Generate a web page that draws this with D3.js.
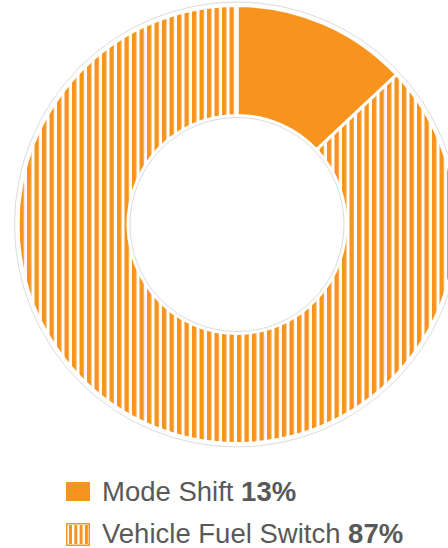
<!DOCTYPE html>
<html>
<head>
<meta charset="utf-8">
<script src="https://cdn.jsdelivr.net/npm/d3@7"></script>
<style>
  html, body { margin: 0; padding: 0; background: #fff; }
  svg { display: block; }
</style>
</head>
<body>
<svg id="chart" width="448" height="548"></svg>
<script>
// Share of emission reductions by measure
const categories = ["Mode Shift", "Vehicle Fuel Switch"];
const values = [13, 87];
const labels = ["13%", "87%"];
const fills = ["solid", "stripes"];

const orange = "#F7941E";
const svg = d3.select("#chart");

// vertical stripe pattern
const defs = svg.append("defs");
const pat = defs.append("pattern")
  .attr("id", "stripes")
  .attr("patternUnits", "userSpaceOnUse")
  .attr("width", 7.5).attr("height", 10);
pat.append("rect").attr("width", 7.5).attr("height", 10).attr("fill", "#fff");
pat.append("rect").attr("x", 0).attr("width", 4.4).attr("height", 10).attr("fill", orange);

const fillFor = f => f === "solid" ? orange : "url(#stripes)";

const cx = 237, cy = 224.5, R = 219, r = 109;

const g = svg.append("g").attr("transform", `translate(${cx},${cy})`);

// faint outline rings
g.append("circle").attr("r", R + 3.5).attr("fill", "none")
  .attr("stroke", "#dcdcdc").attr("stroke-width", 1);

const pie = d3.pie().sort(null).value(d => d.v);
const arc = d3.arc().innerRadius(r).outerRadius(R);
const data = categories.map((c, i) => ({ c, v: values[i], f: fills[i] }));

g.selectAll("path.slice")
  .data(pie(data))
  .join("path")
  .attr("class", "slice")
  .attr("d", arc)
  .attr("fill", d => fillFor(d.data.f))
  .attr("stroke", "#fff")
  .attr("stroke-width", 3);

g.append("circle").attr("r", r - 2).attr("fill", "#fff")
  .attr("stroke", "#dcdcdc").attr("stroke-width", 1);

// legend
const legend = svg.append("g").attr("transform", "translate(66,482)");
const rowH = 41;
const items = legend.selectAll("g.item")
  .data(data)
  .join("g")
  .attr("class", "item")
  .attr("transform", (d, i) => `translate(0,${i * rowH})`);

items.append("rect")
  .attr("x", d => d.f === "solid" ? 0 : 0.75)
  .attr("y", d => d.f === "solid" ? 0 : 0.75)
  .attr("width", d => d.f === "solid" ? 24 : 22.5)
  .attr("height", d => d.f === "solid" ? 19 : 21.5)
  .attr("fill", d => d.f === "solid" ? orange : "#fff")
  .attr("stroke", d => d.f === "solid" ? "none" : orange)
  .attr("stroke-width", 1.5);

// stripes inside the patterned swatch
items.filter(d => d.f !== "solid")
  .selectAll("rect.bar")
  .data(d3.range(4))
  .join("rect")
  .attr("class", "bar")
  .attr("x", i => 3 + i * 5.3)
  .attr("y", 2)
  .attr("width", 3)
  .attr("height", 19)
  .attr("fill", orange);

const txt = items.append("text")
  .attr("x", 36)
  .attr("y", (d, i) => i === 0 ? 19 : 20)
  .attr("font-family", "Liberation Sans, Arial, sans-serif")
  .attr("font-size", 27.5)
  .attr("fill", "#595959");
txt.append("tspan").text(d => d.c + " ");
txt.append("tspan").attr("font-weight", "bold").text((d, i) => labels[i]);
</script>
</body>
</html>
